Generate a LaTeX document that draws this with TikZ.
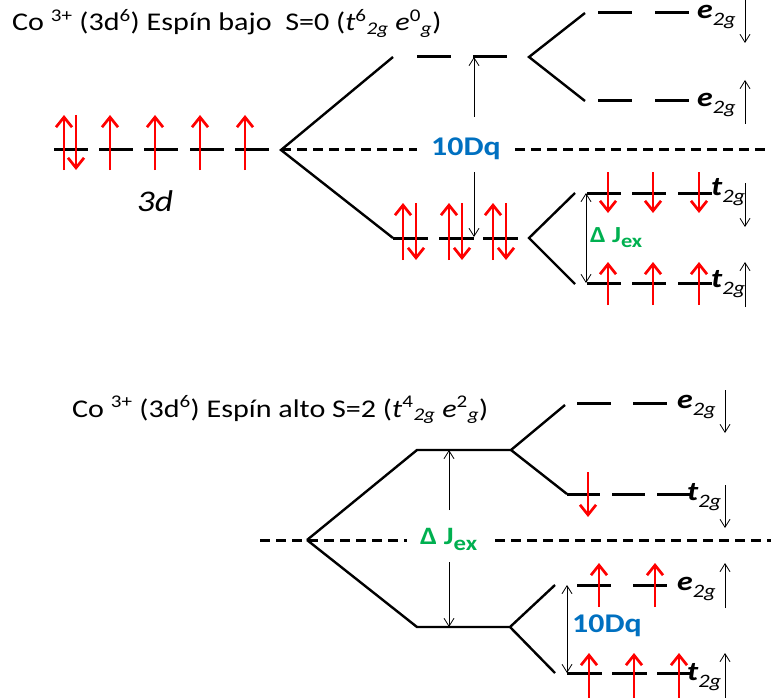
\documentclass[tikz,border=0pt]{standalone}
\usepackage{fontspec}
\setmainfont{Carlito}[FakeStretch=1.18]
\usepackage{tikz}
\usetikzlibrary{arrows.meta,positioning}
\definecolor{DqBlue}{RGB}{0,112,192}
\definecolor{JexGreen}{RGB}{0,176,80}
\newcommand{\orb}[1]{{\fontsize{27}{27}\selectfont\bfseries\itshape #1}\raisebox{-7pt}{\fontsize{19}{19}\selectfont\itshape 2g}}

\begin{document}
\begin{tikzpicture}[x=1pt,y=-1pt,
    lvl/.style={line width=3pt},
    leg/.style={line width=2.4pt},
    mid/.style={line width=3pt,dash pattern=on 10pt off 6pt},
    spin/.style={red,line width=2.7pt,-{Straight Barb[length=10pt,width=16pt]}},
    tag/.style={line width=0.8pt,-{Straight Barb[length=8pt,width=10pt]}},
    tags/.style={line width=0.8pt,{Straight Barb[length=8pt,width=10pt]}-{Straight Barb[length=8pt,width=10pt]}},
    ttl/.style={anchor=base west,inner sep=0pt,font=\fontsize{25.5}{30}\selectfont},
    lab/.style={anchor=base west,inner sep=0pt},
    dq/.style={anchor=base west,inner sep=0pt,text=DqBlue,font=\fontsize{27}{30}\selectfont\bfseries},
    jex/.style={anchor=base west,inner sep=0pt,text=JexGreen}]
  \useasboundingbox (0,0) rectangle (771,698);

  % --- Espin bajo ---
  \node[ttl] (ttlB) at (12,31) {Co \textsuperscript{3+} (3d\textsuperscript{6}) Espín bajo\ \ S=0 (\textit{t}\textsuperscript{6}\textsubscript{\textit{2g}} \textit{e}\textsuperscript{0}\textsubscript{\textit{g}})};
  \coordinate (vB) at (281,150);
  \coordinate (vBe) at (529,57);
  \coordinate (vBt) at (529,238);

  % 3d levels
  \foreach \x in {54,99,144,190,235}
    \draw[lvl] (\x,150) -- ++(34,0);
  \draw[spin] (64,170) -- (64,115);
  \draw[spin] (76,115) -- (76,170);
  \foreach \x in {110,155,200,245}
    \draw[spin] (\x,170) -- (\x,115);
  \node[font=\fontsize{30}{32}\selectfont\itshape] (d3) at (155,201) {3d};

  \draw[leg] (393,57) -- (vB) -- (393,238);
  \node[dq] (dqB) at (431,156) {10Dq};
  \draw[mid] (vB) -- (417,150);
  \draw[mid] (515,150) -- (771,150);

  % e_g
  \foreach \x in {417,473}
    \draw[lvl] (\x,57) -- ++(34,0);
  \draw[leg] (585,13) -- (vBe) -- (585,101);
  \foreach \x in {598,655} {
    \draw[lvl] (\x,13) -- ++(34,0);
    \draw[lvl] (\x,101) -- ++(34,0);
  }
  \node[lab] (eBd) at (697,19) {\orb{e}};
  \node[lab] (eBu) at (697,107) {\orb{e}};
  \draw[tag] (745,0) -- (745,43);
  \draw[tag] (745,124) -- (745,80);

  % t_2g
  \foreach \x in {393,439,483} {
    \draw[lvl] (\x,238) -- ++(35,0);
    \draw[spin] (\x+10,260) -- (\x+10,203);
    \draw[spin] (\x+23,203) -- (\x+23,260);
  }
  \draw[tag] (474,117) -- (474,57);
  \draw[tag] (474,172) -- (474,237);
  \draw[leg] (575,193) -- (vBt) -- (575,284);
  \foreach \x in {587,632,678} {
    \draw[lvl] (\x,193) -- ++(34,0);
    \draw[lvl] (\x,283) -- ++(34,0);
    \draw[spin] (\x+21,172) -- (\x+21,213);
    \draw[spin] (\x+21,305) -- (\x+21,262);
  }
  \draw[tags] (586,193) -- (586,283);
  \node[jex,font=\fontsize{23}{26}\selectfont\bfseries] (jB) at (590,242) {Δ J\raisebox{-5pt}{\fontsize{19}{19}\selectfont ex}};
  \node[lab] (tBd) at (711,195) {\orb{t}};
  \node[lab] (tBu) at (711,287) {\orb{t}};
  \draw[tag] (745,183) -- (745,227);
  \draw[tag] (745,307) -- (745,262);

  % --- Espin alto ---
  \node[ttl] (ttlA) at (72,417) {Co \textsuperscript{3+} (3d\textsuperscript{6}) Espín alto S=2 (\textit{t}\textsuperscript{4}\textsubscript{\textit{2g}} \textit{e}\textsuperscript{2}\textsubscript{\textit{g}})};
  \coordinate (vA) at (307,540);
  \coordinate (vAu) at (511,450);
  \coordinate (vAl) at (510,627);

  \draw[mid] (260,540) -- (vA) -- (407,540);
  \draw[mid] (495,540) -- (771,540);
  \node[jex,font=\fontsize{25}{28}\selectfont\bfseries] (jA) at (420,544) {Δ J\raisebox{-6pt}{\fontsize{21}{21}\selectfont ex}};
  \draw[leg] (vA) -- (417,450) -- (vAu) -- (565,405);
  \draw[leg] (vAu) -- (567,494);
  \draw[leg] (vA) -- (417,627) -- (vAl) -- (555,585);
  \draw[leg] (vAl) -- (555,673);
  \draw[tag] (449,510) -- (449,450);
  \draw[tag] (449,562) -- (449,627);

  % e_2g / t_2g spin abajo
  \foreach \x in {577,633}
    \draw[lvl] (\x,403) -- ++(34,0);
  \foreach \x in {567,612,657}
    \draw[lvl] (\x,494) -- ++(33,0);
  \draw[spin] (588,472) -- (588,517);
  \node[lab] (eAd) at (677,408) {\orb{e}};
  \node[lab] (tAd) at (687,500) {\orb{t}};
  \draw[tag] (725,390) -- (725,433);
  \draw[tag] (725,485) -- (725,528);

  % e_2g / t_2g spin arriba
  \foreach \x in {577,633} {
    \draw[lvl] (\x,585) -- ++(34,0);
    \draw[spin] (\x+22,607) -- (\x+22,563);
  }
  \foreach \x in {567,612,657} {
    \draw[lvl] (\x,673) -- ++(35,0);
    \draw[spin] (\x+22,698) -- (\x+22,653);
  }
  \draw[tags] (567,585) -- (567,673);
  \node[dq] (dqA) at (572,632) {10Dq};
  \node[lab] (eAu) at (677,590) {\orb{e}};
  \node[lab] (tAu) at (687,680) {\orb{t}};
  \draw[tag] (725,608) -- (725,563);
  \draw[tag] (725,698) -- (725,653);
\end{tikzpicture}
\end{document}
